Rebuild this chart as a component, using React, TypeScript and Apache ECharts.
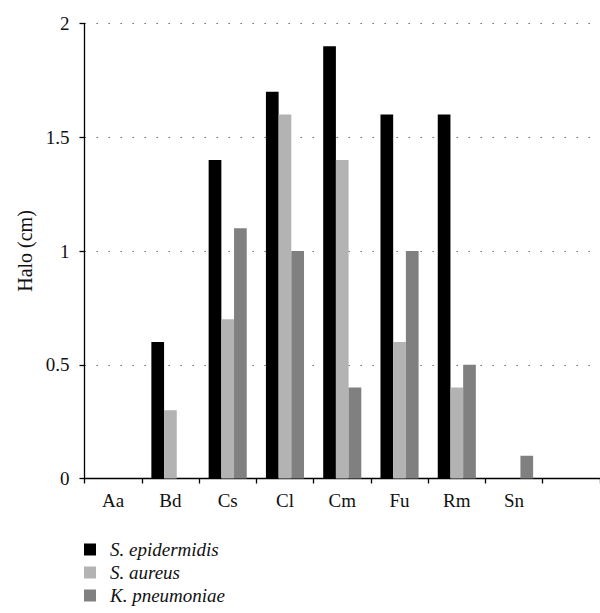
import React, { useEffect, useRef } from "react";
import * as echarts from "echarts";

const categories = ["Aa", "Bd", "Cs", "Cl", "Cm", "Fu", "Rm", "Sn", ""];
const epidermidis = [0, 0.6, 1.4, 1.7, 1.9, 1.6, 1.6, 0, null];
const aureus = [0, 0.3, 0.7, 1.6, 1.4, 0.6, 0.4, 0, null];
const pneumoniae = [0, 0, 1.1, 1.0, 0.4, 1.0, 0.5, 0.1, null];
const seriesNames = ["S. epidermidis", "S. aureus", "K. pneumoniae"];
const colors = ["#000000", "#b3b3b3", "#808080"];

const FONT = "'Liberation Serif', 'DejaVu Serif', serif";

export default function App() {
  const ref = useRef<HTMLDivElement>(null);
  useEffect(() => {
    if (!ref.current) return;
    const chart = echarts.init(ref.current, null, { renderer: "svg" });
    const values = [epidermidis, aureus, pneumoniae];
    chart.setOption({
      animation: false,
      backgroundColor: "#ffffff",
      grid: { left: 84.5, top: 23.5, bottom: 134.5, right: -8.5, containLabel: false },
      legend: {
        orient: "vertical",
        left: 84,
        top: 540,
        height: 72,
        padding: 0,
        itemWidth: 12,
        itemHeight: 12,
        itemGap: 4,
        icon: "rect",
        data: seriesNames,
        textStyle: {
          fontFamily: FONT,
          fontStyle: "italic",
          fontSize: 19,
          lineHeight: 18,
          color: "#111",
          padding: [0, 0, 0, 9],
        },
      },
      xAxis: {
        type: "category",
        data: categories,
        axisLine: { show: true, lineStyle: { color: "#000", width: 1.3 } },
        axisTick: { show: true, length: 5, interval: 0, lineStyle: { color: "#000", width: 1.3 } },
        axisLabel: { interval: 0, margin: 12, fontFamily: FONT, fontSize: 19, color: "#111" },
        splitLine: { show: false },
      },
      yAxis: {
        type: "value",
        min: 0,
        max: 2,
        interval: 0.5,
        name: "Halo (cm)",
        nameLocation: "middle",
        nameGap: 50,
        nameTextStyle: { fontFamily: FONT, fontSize: 20, color: "#111" },
        axisLine: { show: true, lineStyle: { color: "#000", width: 1.3 } },
        axisTick: { show: true, length: 5, lineStyle: { color: "#000", width: 1.3 } },
        axisLabel: { margin: 15, fontFamily: FONT, fontSize: 19, color: "#111" },
        splitLine: {
          show: true,
          lineStyle: { color: "#555", width: 1, type: [1.3, 10.7] },
        },
      },
      series: seriesNames.map((name, i) => ({
        name,
        type: "bar",
        data: values[i],
        barWidth: 12.7,
        barGap: "0%",
        itemStyle: { color: colors[i] },
      })),
    });
    return () => chart.dispose();
  }, []);
  return (
    <div
      ref={ref}
      style={{ position: "absolute", left: 0, top: 0, width: 600, height: 613, overflow: "hidden" }}
    />
  );
}
